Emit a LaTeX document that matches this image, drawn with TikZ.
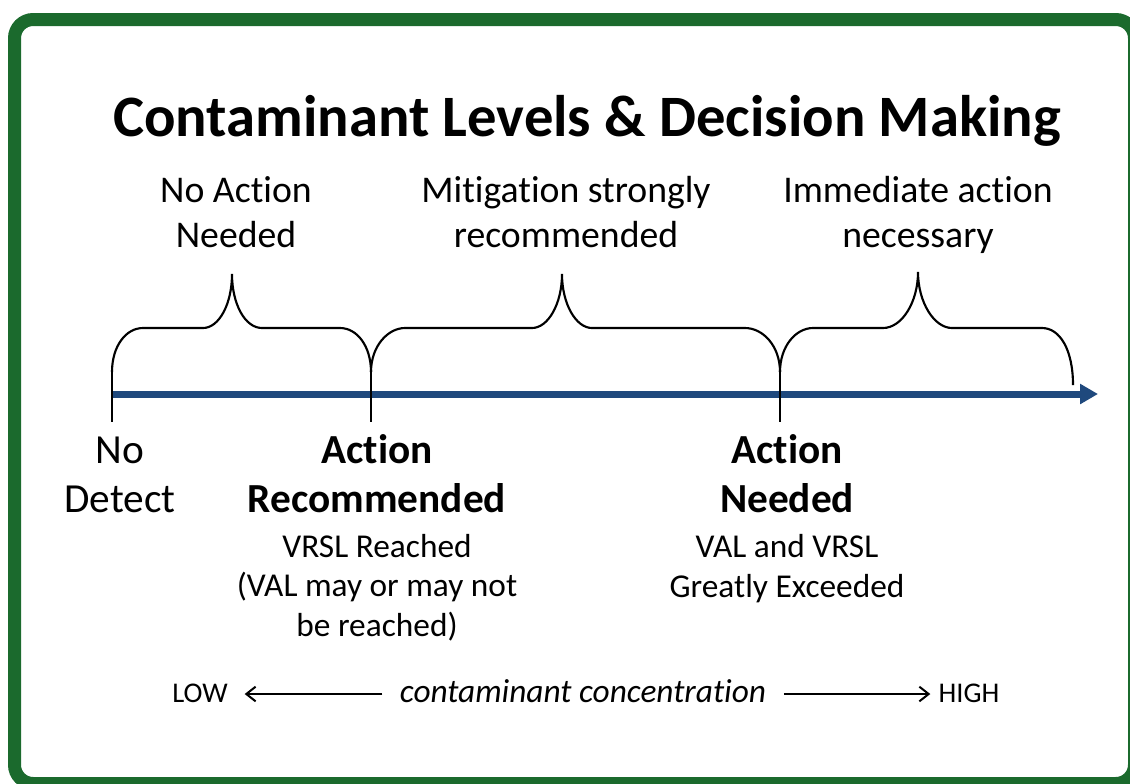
\documentclass[tikz,border=0pt]{standalone}
\usepackage{fontspec}
\setmainfont{Carlito}[Ligatures=NoCommon]
\usetikzlibrary{arrows.meta}

\definecolor{frameGreen}{RGB}{27,106,45}
\definecolor{axisBlue}{RGB}{31,73,125}

\begin{document}
\begin{tikzpicture}[x=0.75pt,y=0.75pt,yscale=-1,xscale=1,
  bandlabel/.style={inner sep=0.75pt, align=center, anchor=base, font=\fontsize{28.3}{33.75}\selectfont},
  markhead/.style={inner sep=0.75pt, align=center, anchor=base, font=\fontsize{31}{36.75}\selectfont\bfseries},
  marknote/.style={inner sep=0.75pt, align=center, anchor=base, font=\fontsize{25}{29.5}\selectfont},
  scalelabel/.style={inner sep=0.75pt, outer sep=12pt, text height=13pt, text depth=0pt, font=\fontsize{21.4}{26}\selectfont},
  bracepath/.style={line width=1.6pt},
  tickline/.style={line width=1.6pt},
  axisline/.style={color=axisBlue, line width=5.25pt, -{Triangle[length=13.5pt,width=14.5pt]}},
  scalearrow/.style={line width=1.5pt, -{Straight Barb[length=7pt,width=11pt,line width=1.5pt]}}]
\useasboundingbox (0,0) rectangle (1130,783);
\clip (0,0) rectangle (1130,783);

%Shape: Rounded Rectangle
\draw [color=frameGreen, line width=9.75pt, rounded corners=14pt] (14.5,19.5) rectangle (1134.5,783.5);

% Text Node
\draw (587,136) node (title) [inner sep=0.75pt, anchor=base, font=\fontsize{44}{50}\selectfont\bfseries] {Contaminant Levels \& Decision Making};

% Text Node
\draw (236,247) node (noaction) [bandlabel] {No Action\\Needed};
% Text Node
\draw (566,247) node (mitigation) [bandlabel] {Mitigation strongly\\recommended};
% Text Node
\draw (918,247) node (immediate) [bandlabel] {Immediate action\\necessary};

%Shape: Brace
\draw [bracepath] (112,372) .. controls (112,346) and (126,328) .. (143,328) -- (203,328) .. controls (219,328) and (232,304) .. (232,274) .. controls (232,304) and (245,328) .. (262,328) -- (340,328) .. controls (357,328) and (371,346) .. (371,372) ;
%Shape: Brace
\draw [bracepath] (371,372) .. controls (371,346) and (388,328) .. (405,328) -- (532,328) .. controls (548,328) and (562,304) .. (562,274) .. controls (562,304) and (576,328) .. (592,328) -- (745,328) .. controls (763,328) and (780,346) .. (780,372) ;
%Shape: Brace
\draw [bracepath] (780,372) .. controls (780,346) and (796,328) .. (813,328) -- (883,328) .. controls (902,328) and (918,302) .. (918,272) .. controls (918,302) and (934,328) .. (952,328) -- (1042,328) .. controls (1060,328) and (1073,350) .. (1073,385) ;

%Straight Lines
\coordinate (axisstart) at (112,394);
\coordinate (axisend) at (1098,394);
\draw [axisline] (axisstart) -- (axisend) ;
%Straight Lines
\draw [tickline] (112,370) -- (112,422) ;
\draw [tickline] (371,370) -- (371,422) ;
\draw [tickline] (780,370) -- (780,422) ;

% Text Node
\draw (120,512) node (nodetect) [markhead, font=\fontsize{31}{36.75}\selectfont\mdseries] {No\\Detect};
% Text Node
\draw (377,512) node (recmd) [markhead] {Action\\Recommended};
% Text Node
\draw (377,636) node (recmdnote) [marknote] {VRSL Reached\\(VAL may or may not\\be reached)};
% Text Node
\draw (787,512) node (needed) [markhead] {Action\\Needed};
% Text Node
\draw (787,597) node (needednote) [marknote] {VAL and VRSL\\Greatly Exceeded};

% Text Node
\draw (583,694) node (conc) [scalelabel, outer sep=12.5pt, font=\fontsize{25}{30}\selectfont\itshape] {contaminant concentration};
% Text Node
\draw (200,694) node (low) [scalelabel] {LOW};
% Text Node
\draw (969,694) node (high) [scalelabel, outer sep=5.5pt] {HIGH};
%Straight Lines
\draw [scalearrow] (conc) -- (low) ;
\draw [scalearrow] (conc) -- (high) ;

\end{tikzpicture}
\end{document}
